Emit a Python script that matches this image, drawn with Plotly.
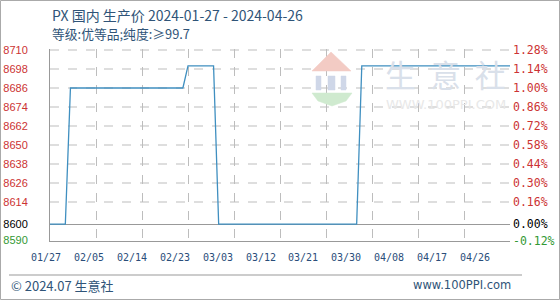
import plotly.graph_objects as go

# ---------------- data ----------------
dates = ["2024-01-27", "2024-01-30", "2024-01-31", "2024-02-22", "2024-02-23",
         "2024-02-28", "2024-02-29", "2024-03-27", "2024-03-28", "2024-04-26"]
prices = [8600, 8600, 8686, 8686, 8700, 8700, 8600, 8600, 8700, 8700]
base_price = 8600

left_ticks = [8590, 8600, 8614, 8626, 8638, 8650, 8662, 8674, 8686, 8698, 8710]
right_ticks = [-0.12, 0.00, 0.16, 0.30, 0.44, 0.58, 0.72, 0.86, 1.00, 1.14, 1.28]
x_ticks = ["2024-01-27", "2024-02-05", "2024-02-14", "2024-02-23", "2024-03-03",
           "2024-03-12", "2024-03-21", "2024-03-30", "2024-04-08", "2024-04-17",
           "2024-04-26"]
x_tick_labels = ["01/27", "02/05", "02/14", "02/23", "03/03", "03/12", "03/21",
                 "03/30", "04/08", "04/17", "04/26"]

title_text = "PX 国内 生产价 2024-01-27 - 2024-04-26"
subtitle_text = "等级:优等品;纯度:≥99.7"
footer_left = "© 2024.07 生意社"
footer_right = "www.100PPI.com"

# ---------------- layout helpers ----------------
W, H = 560, 300
PLOT_TOP, PLOT_BOTTOM = 49, 241          # pixel rows of the plot box
GRID_PX = 19                             # pixels per 12-unit grid step


def px(x):
    return x / W


def py(y):
    return 1 - y / H


RED, BLACK, GREEN = "#cc3333", "#000000", "#339933"


def tick_color(v, zero):
    if v > zero:
        return RED
    if v < zero:
        return GREEN
    return BLACK


left_text = [f"<span style='color:{tick_color(v, base_price)}'>{v}</span>" for v in left_ticks]
right_text = [f"<span style='color:{tick_color(v, 0)}'>{v:.2f}%</span>" for v in right_ticks]

units_per_px = 12 / GRID_PX
y_hi = left_ticks[-1] + units_per_px
y_lo = y_hi - (PLOT_BOTTOM - PLOT_TOP) * units_per_px
pct_lo = (y_lo / base_price - 1) * 100
pct_hi = (y_hi / base_price - 1) * 100
pct_values = [(p / base_price - 1) * 100 for p in prices]

fig = go.Figure()
fig.add_trace(go.Scatter(x=dates, y=prices, mode="lines",
                         line=dict(color="#3f8fc0", width=1.3),
                         hoverinfo="skip", showlegend=False))
fig.add_trace(go.Scatter(x=dates, y=pct_values, mode="lines", yaxis="y2",
                         line=dict(width=0), opacity=0, hoverinfo="skip",
                         showlegend=False))

grid_col = "#bdbdbd"
fig.update_layout(
    width=W, height=H,
    margin=dict(l=0, r=0, t=0, b=0, autoexpand=False),
    paper_bgcolor="white", plot_bgcolor="white",
    showlegend=False,
    xaxis=dict(domain=[px(50), px(510)], range=[x_ticks[0], x_ticks[-1]],
               type="date", tickvals=x_ticks, showticklabels=False,
               showgrid=True, gridcolor=grid_col, griddash="dash", gridwidth=1,
               showline=True, linecolor="#999999", linewidth=1,
               zeroline=False, ticks="", fixedrange=True),
    yaxis=dict(domain=[py(PLOT_BOTTOM), py(PLOT_TOP)], range=[y_lo, y_hi],
               tickvals=left_ticks, ticktext=left_text,
               showgrid=False,
               showline=True, linecolor="#999999", linewidth=1,
               zeroline=False, ticks="", ticklabelstandoff=19,
               tickfont=dict(family="Liberation Sans", size=11)),
    yaxis2=dict(overlaying="y", side="right", anchor="x", range=[pct_lo, pct_hi],
                tickvals=right_ticks, ticktext=right_text,
                showgrid=False,
                zeroline=True, zerolinecolor="#999999",
                zerolinewidth=1, showline=False, ticks="", ticklabelstandoff=2,
                tickfont=dict(family="DejaVu Sans Mono", size=11.5)),
)

title_col = "#2f5478"
annos = [
    dict(text=title_text, x=px(50), y=py(15), xanchor="left", yanchor="middle",
         font=dict(family="Noto Sans CJK SC", size=14, color=title_col)),
    dict(text=subtitle_text, x=px(50), y=py(34), xanchor="left", yanchor="middle",
         font=dict(family="Noto Sans CJK SC", size=12.8, color=title_col)),
    dict(text=footer_left, x=px(9), y=py(285), xanchor="left", yanchor="middle",
         font=dict(family="Noto Sans CJK SC", size=13, color=title_col)),
    dict(text=footer_right, x=px(513), y=py(285), xanchor="right", yanchor="middle",
         font=dict(family="DejaVu Sans", size=11.5, color=title_col)),
    # watermark
    dict(text="生  意  社", x=px(446), y=py(73), xanchor="center", yanchor="middle",
         font=dict(family="Noto Sans CJK SC", size=31, color="#d9e0ea")),
    dict(text="WWW.100PPI.COM", x=px(446), y=py(104), xanchor="center", yanchor="middle",
         font=dict(family="DejaVu Sans", size=13, color="#e8e8e8")),
]
label_x0, label_step = 46.0, 42.9
for i, lab in enumerate(x_tick_labels):
    annos.append(dict(text=lab, x=px(label_x0 + label_step * i), y=py(257),
                      xanchor="center", yanchor="middle",
                      font=dict(family="DejaVu Sans Mono", size=10, color="#2a4d7a")))
for a in annos:
    a.update(xref="paper", yref="paper", showarrow=False)
fig.update_layout(annotations=annos)


def path(points):
    return "M " + " L ".join(f"{px(x):.5f},{py(y):.5f}" for x, y in points) + " Z"


def logo_part(p, color):
    return dict(type="path", path=p, xref="paper", yref="paper",
                fillcolor=color, line=dict(color=color, width=0.5), layer="above")


shapes = [
    dict(type="rect", xref="paper", yref="paper",
         x0=px(0.5), x1=px(559.5), y0=py(299.5), y1=py(0.5),
         line=dict(color="#aaaaaa", width=1)),
    dict(type="line", xref="paper", yref="paper",
         x0=px(9), x1=px(522), y0=py(275), y1=py(275),
         line=dict(color="#999999", width=1)),
    logo_part(path([(312, 71), (331, 52), (351, 71)]), "#f3cbc4"),
    logo_part(path([(316, 76), (321, 76), (321, 90), (316, 90)]), "#cfd7e8"),
    logo_part(path([(328, 76), (335, 76), (335, 90), (328, 90)]), "#cfd7e8"),
    logo_part(path([(341, 76), (346, 76), (346, 90), (341, 90)]), "#cfd7e8"),
    logo_part(path([(312, 93), (352, 93), (346, 101), (332, 106), (318, 101)]), "#cfeacf"),
]
# horizontal dashed gridlines at the left-axis tick levels (above the 8600 base)
for v in left_ticks:
    if v > base_price:
        shapes.append(dict(type="line", xref="x", yref="y",
                           x0=x_ticks[0], x1=x_ticks[-1], y0=v, y1=v,
                           line=dict(color=grid_col, width=1, dash="dash"),
                           layer="between"))
fig.update_layout(shapes=shapes)

fig.write_html("out.html")
